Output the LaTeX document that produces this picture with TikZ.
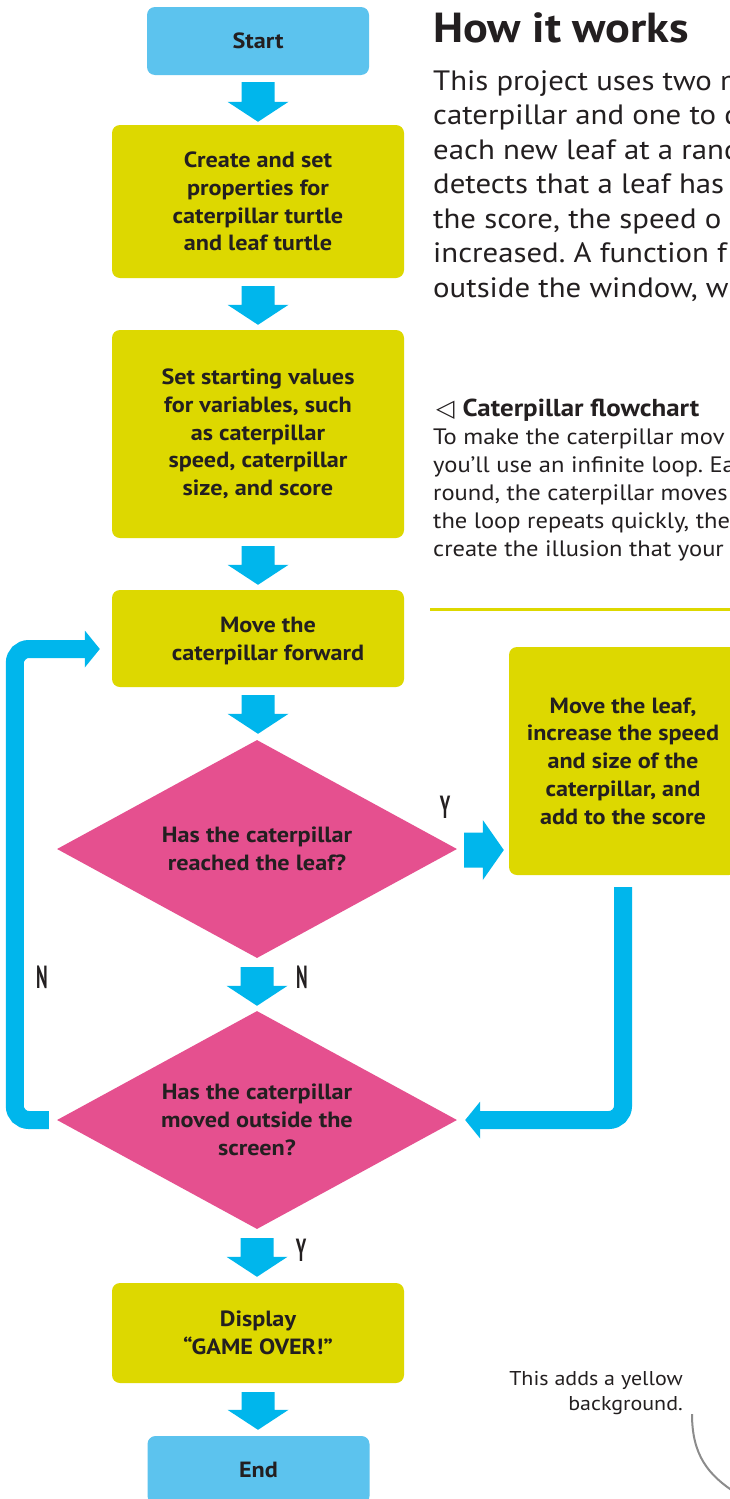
\documentclass[tikz,border=0pt]{standalone}
\usepackage{fontspec}
\setmainfont{PT Sans}[FakeStretch=1.1]
\newfontfamily\symfont{DejaVu Sans}
\usetikzlibrary{shapes.geometric,calc}
\frenchspacing
\definecolor{boxyellow}{RGB}{221,216,0}
\definecolor{termblue}{RGB}{92,195,238}
\definecolor{arrowblue}{RGB}{0,182,236}
\definecolor{dpink}{RGB}{229,80,143}
\definecolor{ink}{RGB}{35,31,32}
\definecolor{leadgray}{RGB}{140,140,140}
% vertical block arrow: #1 = top of shaft, #2 = tip
\newcommand\vblockarrow[2]{%
  \fill[arrowblue] let \p1=(#1), \p2=(#2) in
    (\x1-16.5pt,\y1) -- (\x1+16.5pt,\y1) -- (\x1+16.5pt,\y2+20pt) -- (\x1+30.5pt,\y2+20pt)
    -- (\x1,\y2) -- (\x1-30.5pt,\y2+20pt) -- (\x1-16.5pt,\y2+20pt) -- cycle;}
% horizontal block arrow: #1 = start of shaft, #2 = tip
\newcommand\hblockarrow[2]{%
  \fill[arrowblue] let \p1=(#1), \p2=(#2) in
    (\x1,\y1+17.5pt) -- (\x2-21pt,\y1+17.5pt) -- (\x2-21pt,\y1+30pt) -- (\x2,\y1)
    -- (\x2-21pt,\y1-30pt) -- (\x2-21pt,\y1-17.5pt) -- (\x1,\y1-17.5pt) -- cycle;}
\begin{document}
\begin{tikzpicture}[x=1pt,y=-1pt,
  every node/.style={text=ink},
  termbox/.style={fill=termblue, rounded corners=8pt, minimum width=222pt, minimum height=68pt, inner sep=0pt, font=\bfseries\fontsize{22}{27.7}\selectfont},
  procbox/.style={fill=boxyellow, rounded corners=8pt, minimum width=292pt, inner sep=0pt, align=center, font=\bfseries\fontsize{22}{27.7}\selectfont},
  decbox/.style={fill=dpink, shape=diamond, aspect=1.83, minimum width=400pt, minimum height=218pt, inner sep=0pt, align=center, font=\bfseries\fontsize{22}{27.7}\selectfont},
  boxtext/.style={inner sep=0pt, align=center, font=\bfseries\fontsize{22}{27.7}\selectfont},
  yn/.style={font=\bfseries\fontsize{32}{32}\selectfont, inner sep=0pt},
  bodytext/.style={font=\fontsize{28}{34.5}\selectfont, inner sep=0pt, anchor=base west},
  captext/.style={font=\fontsize{22.3}{28}\selectfont, inner sep=0pt, anchor=base west},
  notetext/.style={font=\fontsize{20}{25}\selectfont, inner sep=0pt, anchor=base east},
  loopline/.style={draw=arrowblue, line width=18pt, rounded corners=14pt},
]
\clip (0,0) rectangle (730,1499);
\fill[white] (0,0) rectangle (730,1499);

% flowchart nodes
\node[termbox] (start) at (258,41) {Start};
\node[procbox, minimum height=153pt] (create) at (258,201.5) {Create and set\\properties for\\caterpillar turtle\\and leaf turtle};
\node[procbox, minimum height=208pt] (setvals) at (258,434) {Set starting values\\for variables, such\\as caterpillar\\speed, caterpillar\\size, and score};
\node[procbox, minimum height=97pt] (move) at (258,638.5) {};
\node[boxtext] (movetext) at (268,641) {Move the\\caterpillar forward};
\node[decbox] (reach) at (257,849) {Has the caterpillar\\reached the leaf?};
\node[procbox, minimum width=228pt, minimum height=228pt] (leaf) at (623,761) {Move the leaf,\\increase the speed\\and size of the\\caterpillar, and\\add to the score};
\node[decbox] (outside) at (257,1120) {Has the caterpillar\\moved outside the\\screen?};
\node[procbox, minimum height=100pt] (display) at (258,1333) {Display\\“GAME OVER!”};
\node[termbox] (end) at (258.5,1470) {End};

% block arrows
\vblockarrow{[yshift=-7pt]start.south}{[yshift=3pt]create.north}
\vblockarrow{[yshift=-8pt]create.south}{[yshift=5pt]setvals.north}
\vblockarrow{[yshift=-8pt]setvals.south}{[yshift=5pt]move.north}
\vblockarrow{[yshift=-8pt]move.south}{[yshift=6pt]reach.north}
\vblockarrow{[yshift=-9pt]reach.south}{[yshift=5pt]outside.north}
\vblockarrow{[yshift=-9pt]outside.south}{[yshift=6pt]display.north}
\vblockarrow{[yshift=-9pt]display.south}{[yshift=6pt]end.north}
\hblockarrow{[xshift=7pt,yshift=-1pt]reach.east}{[xshift=-5pt,yshift=-1pt]reach.east -| leaf.west}

% loop back (N) on the left
\draw[loopline] ([xshift=-8pt]outside.west) -- ([xshift=-42pt]outside.west) |- ([xshift=-26pt,yshift=-10.5pt]move.west);
\fill[arrowblue] ([xshift=-12pt,yshift=-10.5pt]move.west) -- ++(-15pt,18.5pt) -- ++(0pt,-37pt) -- cycle;
% return from leaf box on the right
\draw[loopline] ([yshift=-12pt]leaf.south) |- ([xshift=22pt]outside.east);
\fill[arrowblue] ([xshift=8pt]outside.east) -- ++(15pt,18.5pt) -- ++(0pt,-37pt) -- cycle;

% Y / N labels
\node[yn] (yreach) at (445,807) {\scalebox{0.5}[1]{Y}};
\node[yn] (nreach) at (302,977) {\scalebox{0.5}[1]{N}};
\node[yn] (nloop) at (42,977) {\scalebox{0.5}[1]{N}};
\node[yn] (yout) at (301,1250) {\scalebox{0.5}[1]{Y}};

% right column text
\node[inner sep=0pt, anchor=base west, font=\bfseries\fontsize{42}{44}\selectfont] (head) at (433,42) {How it works};
\foreach \t [count=\i] in {{This project uses two m},{caterpillar and one to d},{each new leaf at a rand},{detects that a leaf has},{the score, the speed o},{increased. A function f},{outside the window, w}}
  \node[bodytext] (body\i) at (433,{90+34.5*(\i-1)}) {\t};

\node[captext] (caphead) at (436,416) {{\symfont\fontsize{24}{24}\selectfont ◁}\hspace{8pt}\textbf{\fontsize{24.5}{28}\selectfont Caterpillar flowchart}};
\foreach \t [count=\i] in {{To make the caterpillar mov},{you’ll use an infinite loop. Ea},{round, the caterpillar moves},{the loop repeats quickly, the},{create the illusion that your}}
  \node[captext] (cap\i) at (433,{444+28*(\i-1)}) {\t};

\draw[boxyellow, line width=3pt] (430,609) -- (730,609);

% annotation
\node[notetext] (note1) at (683,1385) {This adds a yellow};
\node[notetext] (note2) at (683,1410) {background.};
\coordinate (leadA) at (692,1414);
\coordinate (leadB) at (736,1493);
\draw[leadgray, line width=2pt] (leadA) .. controls (692,1455) and (708,1475) .. (leadB);
\end{tikzpicture}
\end{document}
